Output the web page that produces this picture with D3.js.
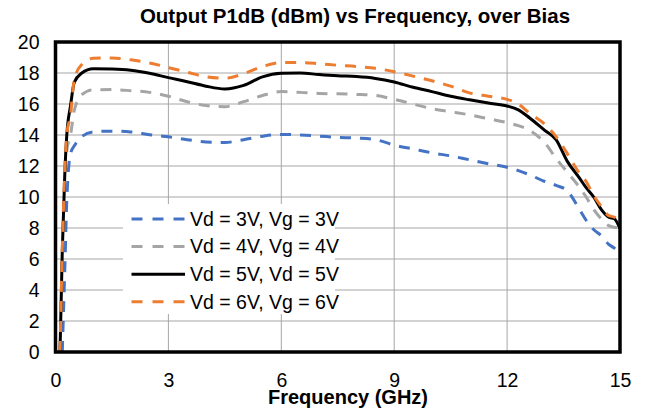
<!DOCTYPE html>
<meta charset="utf-8">
<style>
  body { margin: 0; background: #fff; }
  svg text { font-family: "Liberation Sans", Arial, Helvetica, sans-serif; fill: #000; }
  .grid line { stroke: #a6a6a6; stroke-width: 1px; }
  .title { font-size: 20.5px; font-weight: bold; }
</style>
<body>
<script src="https://cdn.jsdelivr.net/npm/d3@7"></script>
<script>
// frequency grid (GHz) shared by all bias curves
var freq = [0.12, 0.18, 0.25, 0.3, 0.4, 0.5, 0.7, 1.0, 1.5, 2.0, 2.5, 3.0, 3.5, 4.0, 4.5, 5.0,
            5.5, 6.0, 6.5, 7.0, 7.5, 8.0, 8.5, 9.0, 9.5, 10.0, 10.5, 11.0, 11.5, 12.0, 12.3,
            12.6, 13.0, 13.3, 13.6, 13.9, 14.1, 14.3, 14.5, 14.7, 14.85, 15.0];

// P1dB (dBm)
var p1db3V = [null, 0, 5.6, 9.8, 12.8, 13.3, 13.9, 14.2, 14.25, 14.2, 14.02, 13.88, 13.7, 13.55, 13.52, 13.7,
              13.92, 14.04, 14.0, 13.93, 13.85, 13.8, 13.7, 13.35, 13.1, 12.85, 12.65, 12.4, 12.15, 11.92, 11.7,
              11.43, 11.0, 10.75, 10.4, 9.3, 8.5, 7.9, 7.5, 6.95, 6.7, 6.35];
var p1db4V = [0, 6, 11, 13.0, 14.0, 15.6, 16.6, 16.92, 16.93, 16.86, 16.75, 16.5, 16.15, 15.9, 15.83, 16.15,
              16.55, 16.8, 16.75, 16.68, 16.66, 16.62, 16.55, 16.3, 16.0, 15.7, 15.5, 15.3, 15.05, 14.8, 14.6,
              14.3, 13.5, 12.5, 11.6, 10.7, 10.0, 9.2, 8.6, 8.15, 8.05, 7.98];
var p1db5V = [0, 6.5, 11.7, 14.0, 15.9, 17.4, 18.0, 18.28, 18.26, 18.18, 17.98, 17.7, 17.44, 17.15, 16.97, 17.2,
              17.75, 17.98, 18.0, 17.9, 17.82, 17.77, 17.65, 17.42, 17.08, 16.8, 16.5, 16.27, 16.06, 15.87, 15.62,
              15.1, 14.3, 13.7, 12.3, 11.3, 10.6, 10.0, 9.2, 8.7, 8.6, 7.95];
var p1db6V = [0, 6.5, 11.9, 14.0, 15.3, 17.6, 18.55, 18.95, 18.97, 18.85, 18.65, 18.35, 18.05, 17.75, 17.66, 17.95,
              18.42, 18.67, 18.67, 18.6, 18.5, 18.42, 18.3, 18.08, 17.8, 17.5, 17.15, 16.72, 16.5, 16.3, 16.0,
              15.4, 14.7, 13.9, 12.8, 11.6, 11.0, 10.1, 9.4, 8.8, 8.7, 8.25];

var seriesNames = ["Vd = 3V, Vg = 3V", "Vd = 4V, Vg = 4V", "Vd = 5V, Vd = 5V", "Vd = 6V, Vg = 6V"];
var seriesColors = ["#4472c4", "#a5a5a5", "#000000", "#ed7d31"];
var seriesDash = ["11,9", "11,9", null, "11,9"];
var seriesValues = [p1db3V, p1db4V, p1db5V, p1db6V];

var xTicks = [0, 3, 6, 9, 12, 15];
var yTicks = [0, 2, 4, 6, 8, 10, 12, 14, 16, 18, 20];

var W = 647, H = 419;
var plotL = 55.5, plotR = 620, plotT = 42, plotB = 352;

var svg = d3.select("body").append("svg")
    .attr("width", W)
    .attr("height", H);

var x = d3.scaleLinear().domain([0, 15]).range([plotL, plotR]);
var y = d3.scaleLinear().domain([0, 20]).range([plotB, plotT]);

// grid lines
var grid = svg.append("g").attr("class", "grid");
grid.selectAll(".gy")
  .data(yTicks.slice(1, -1))
  .enter().append("line")
    .attr("x1", plotL).attr("x2", plotR)
    .attr("y1", function (d) { return y(d); })
    .attr("y2", function (d) { return y(d); });
grid.selectAll(".gx")
  .data(xTicks.slice(1, -1))
  .enter().append("line")
    .attr("y1", plotT).attr("y2", plotB)
    .attr("x1", function (d) { return x(d); })
    .attr("x2", function (d) { return x(d); });

// axes, only used for the labels
var xAxis = d3.axisBottom(x).tickValues(xTicks).tickSize(0).tickPadding(0);
var gx = svg.append("g")
    .attr("transform", "translate(0," + plotB + ")")
    .call(xAxis);
gx.select(".domain").remove();
gx.selectAll("text")
    .attr("y", 34.5)
    .attr("dy", null);

var yAxis = d3.axisLeft(y).tickValues(yTicks).tickSize(0).tickPadding(0);
var gy = svg.append("g")
    .attr("transform", "translate(" + plotL + ",0)")
    .call(yAxis);
gy.select(".domain").remove();
gy.selectAll("text")
    .attr("x", -16)
    .attr("dy", "0.35em");

svg.selectAll(".tick text")
    .attr("font-family", null)
    .attr("font-size", null)
    .attr("fill", "#000")
    .style("font-size", "19.5px");
gx.attr("font-family", null).attr("font-size", null);
gy.attr("font-family", null).attr("font-size", null);

// curves
var line = d3.line()
    .defined(function (d) { return d[1] !== null; })
    .x(function (d) { return x(d[0]); })
    .y(function (d) { return y(d[1]); })
    .curve(d3.curveMonotoneX);

seriesValues.forEach(function (vals, i) {
  svg.append("path")
      .attr("d", line(freq.map(function (f, j) { return [f, vals[j]]; })))
      .style("fill", "none")
      .style("stroke", seriesColors[i])
      .style("stroke-width", "3px")
      .style("stroke-dasharray", seriesDash[i])
      .style("stroke-linejoin", "round");
});

// plot frame
svg.append("rect")
    .attr("x", plotL).attr("y", plotT)
    .attr("width", plotR - plotL).attr("height", plotB - plotT)
    .style("fill", "none")
    .style("stroke", "#000")
    .style("stroke-width", "3.5px");

// legend
var legend = svg.append("g");
legend.append("rect")
    .attr("x", 123).attr("y", 204)
    .attr("width", 212).attr("height", 110)
    .style("fill", "#fff");
seriesNames.forEach(function (name, i) {
  var ly = 219 + i * 27.6;
  legend.append("line")
      .attr("x1", 131.5).attr("x2", 185)
      .attr("y1", ly).attr("y2", ly)
      .style("stroke", seriesColors[i])
      .style("stroke-width", "3px")
      .style("stroke-dasharray", seriesDash[i] ? "11,10" : null);
  legend.append("text")
      .attr("x", 190)
      .attr("y", ly)
      .attr("dy", "0.35em")
      .style("font-size", "19.5px")
      .text(name);
});

// titles
svg.append("text")
    .attr("class", "title")
    .attr("x", 355).attr("y", 23)
    .style("text-anchor", "middle")
    .text("Output P1dB (dBm) vs Frequency, over Bias");
svg.append("text")
    .attr("class", "title")
    .attr("x", 348).attr("y", 404)
    .style("text-anchor", "middle")
    .style("font-size", "20px")
    .text("Frequency (GHz)");
</script>
</body>
